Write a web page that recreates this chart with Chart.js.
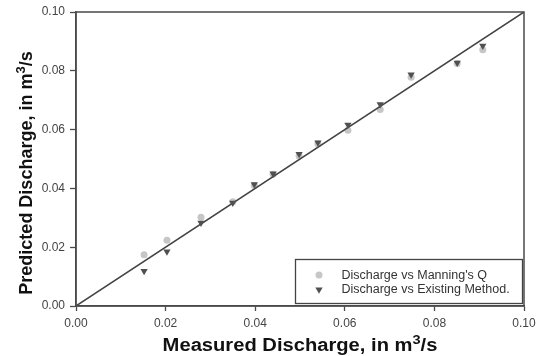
<!DOCTYPE html>
<html>
<head>
<meta charset="utf-8">
<script src="https://cdn.jsdelivr.net/npm/chart.js@4/dist/chart.umd.min.js"></script>
<style>
  html, body { margin: 0; padding: 0; background: #fff; }
  canvas { display: block; }
</style>
</head>
<body>
<canvas id="myChart" width="538" height="356"></canvas>
<script>
// measured discharge (x), shared by both series
const measured = [0.0152, 0.0203, 0.0279, 0.0350, 0.0398, 0.0440, 0.0498, 0.0540, 0.0607, 0.0679, 0.0748, 0.0851, 0.0908]
const manningQ = [0.0174, 0.0224, 0.0302, 0.0355, 0.0410, 0.0448, 0.0510, 0.0552, 0.0598, 0.0668, 0.0778, 0.0825, 0.0872]
const existingQ = [0.0119, 0.0185, 0.0283, 0.0351, 0.0414, 0.0450, 0.0517, 0.0556, 0.0616, 0.0686, 0.0787, 0.0827, 0.0885]
// 1:1 line
const lineX = [0, 0.1]
const lineY = [0, 0.1]
const tickValues = [0, 0.02, 0.04, 0.06, 0.08, 0.1]

const FONT = '"Liberation Sans", Arial, sans-serif'
const AXIS = '#4a4a4a'

const toPoints = (xs, ys) => xs.map((x, i) => ({ x: x, y: ys[i] }))

// axis titles with a raised "3"
const drawTitle = (ctx, main, sup, tail, size, supSize) => {
    ctx.font = 'bold ' + size + 'px ' + FONT
    const w1 = ctx.measureText(main).width
    const w3 = ctx.measureText(tail).width
    ctx.font = 'bold ' + supSize + 'px ' + FONT
    const w2 = ctx.measureText(sup).width
    let x = -(w1 + w2 + w3) / 2
    ctx.textAlign = 'left'
    ctx.textBaseline = 'alphabetic'
    ctx.font = 'bold ' + size + 'px ' + FONT
    ctx.fillText(main, x, 0)
    x += w1
    ctx.font = 'bold ' + supSize + 'px ' + FONT
    ctx.fillText(sup, x, -7)
    x += w2
    ctx.font = 'bold ' + size + 'px ' + FONT
    ctx.fillText(tail, x, 0)
}

const framePlugin = {
    id: 'frame',
    beforeDraw(chart) {
        const ctx = chart.ctx
        ctx.save()
        ctx.fillStyle = '#fff'
        ctx.fillRect(0, 0, chart.width, chart.height)
        ctx.restore()
    },
    afterDraw(chart) {
        const { ctx, chartArea } = chart
        ctx.save()
        // box round the plot
        ctx.strokeStyle = AXIS
        ctx.lineWidth = 1.5
        ctx.strokeRect(chartArea.left, chartArea.top, chartArea.right - chartArea.left, chartArea.bottom - chartArea.top)

        // legend box in the lower right corner
        const lw = 227
        const lh = 44
        const lx = chartArea.right - 1.5 - lw
        const ly = chartArea.bottom - 2.5 - lh
        ctx.fillStyle = '#fff'
        ctx.fillRect(lx, ly, lw, lh)
        ctx.lineWidth = 1.3
        ctx.strokeStyle = '#444'
        ctx.strokeRect(lx, ly, lw, lh)

        const sets = chart.data.datasets.filter(d => d.inLegend)
        sets.forEach((ds, i) => {
            const cy = ly + 15.5 + i * 14.5
            const cx = lx + 23.5
            ctx.fillStyle = ds.backgroundColor
            ctx.beginPath()
            if (ds.pointStyle === 'triangle') {
                const r = ds.pointRadius
                ctx.moveTo(cx - r * 0.87, cy - r * 0.5)
                ctx.lineTo(cx + r * 0.87, cy - r * 0.5)
                ctx.lineTo(cx, cy + r)
                ctx.closePath()
            } else {
                ctx.arc(cx, cy, ds.pointRadius, 0, Math.PI * 2)
            }
            ctx.fill()
            ctx.fillStyle = '#333'
            ctx.font = '12.5px ' + FONT
            ctx.textAlign = 'left'
            ctx.textBaseline = 'middle'
            ctx.fillText(ds.label, lx + 46, cy + 0.5)
        })

        // axis titles
        ctx.fillStyle = '#111'
        ctx.save()
        ctx.translate((chartArea.left + chartArea.right) / 2, 351)
        ctx.scale(1.12, 1)
        drawTitle(ctx, 'Measured Discharge, in m', '3', '/s', 18, 13)
        ctx.restore()

        ctx.save()
        ctx.translate(32, 173)
        ctx.rotate(-Math.PI / 2)
        drawTitle(ctx, 'Predicted Discharge, in m', '3', '/s', 18, 13)
        ctx.restore()

        ctx.restore()
    }
}

const axisOptions = (tickLength, pad) => ({
    type: 'linear',
    min: 0,
    max: 0.1,
    afterBuildTicks: (scale) => {
        scale.ticks = tickValues.map(v => ({ value: v }))
    },
    ticks: {
        color: '#444',
        font: { family: FONT, size: 12 },
        padding: pad,
        callback: (v) => Number(v).toFixed(2)
    },
    grid: {
        drawOnChartArea: false,
        drawTicks: true,
        tickLength: tickLength,
        color: AXIS,
        tickWidth: 1.3
    },
    border: { display: true, color: AXIS, width: 1.5 },
    title: { display: false }
})

const xAxis = axisOptions(5, 5)
xAxis.afterFit = (scale) => {
    scale.height = 50
    scale.paddingLeft = 0
    scale.paddingRight = 0
}
const yAxis = axisOptions(6, 5)
yAxis.afterFit = (scale) => {
    scale.width = 76
    scale.paddingTop = 0
    scale.paddingBottom = 0
}

const ctx = document.getElementById('myChart').getContext('2d')
new Chart(ctx, {
    type: 'scatter',
    data: {
        datasets: [
            {
                label: "Discharge vs Manning's Q",
                data: toPoints(measured, manningQ),
                pointStyle: 'circle',
                pointRadius: 3.5,
                borderWidth: 0,
                backgroundColor: '#c6c6c6',
                borderColor: '#c6c6c6',
                inLegend: true,
                order: 2
            },
            {
                label: 'Discharge vs Existing Method.',
                data: toPoints(measured, existingQ),
                pointStyle: 'triangle',
                rotation: 180,
                pointRadius: 4.2,
                borderWidth: 0,
                backgroundColor: '#505050',
                borderColor: '#505050',
                inLegend: true,
                order: 0
            },
            {
                type: 'line',
                label: '1:1',
                data: toPoints(lineX, lineY),
                borderColor: '#444',
                borderWidth: 1.5,
                pointRadius: 0,
                fill: false,
                order: 1
            }
        ]
    },
    options: {
        responsive: false,
        animation: false,
        layout: { padding: { top: 12, right: 14, left: 0, bottom: 0 } },
        plugins: {
            legend: { display: false },
            tooltip: { enabled: false }
        },
        scales: { x: xAxis, y: yAxis }
    },
    plugins: [framePlugin]
})
</script>
</body>
</html>
